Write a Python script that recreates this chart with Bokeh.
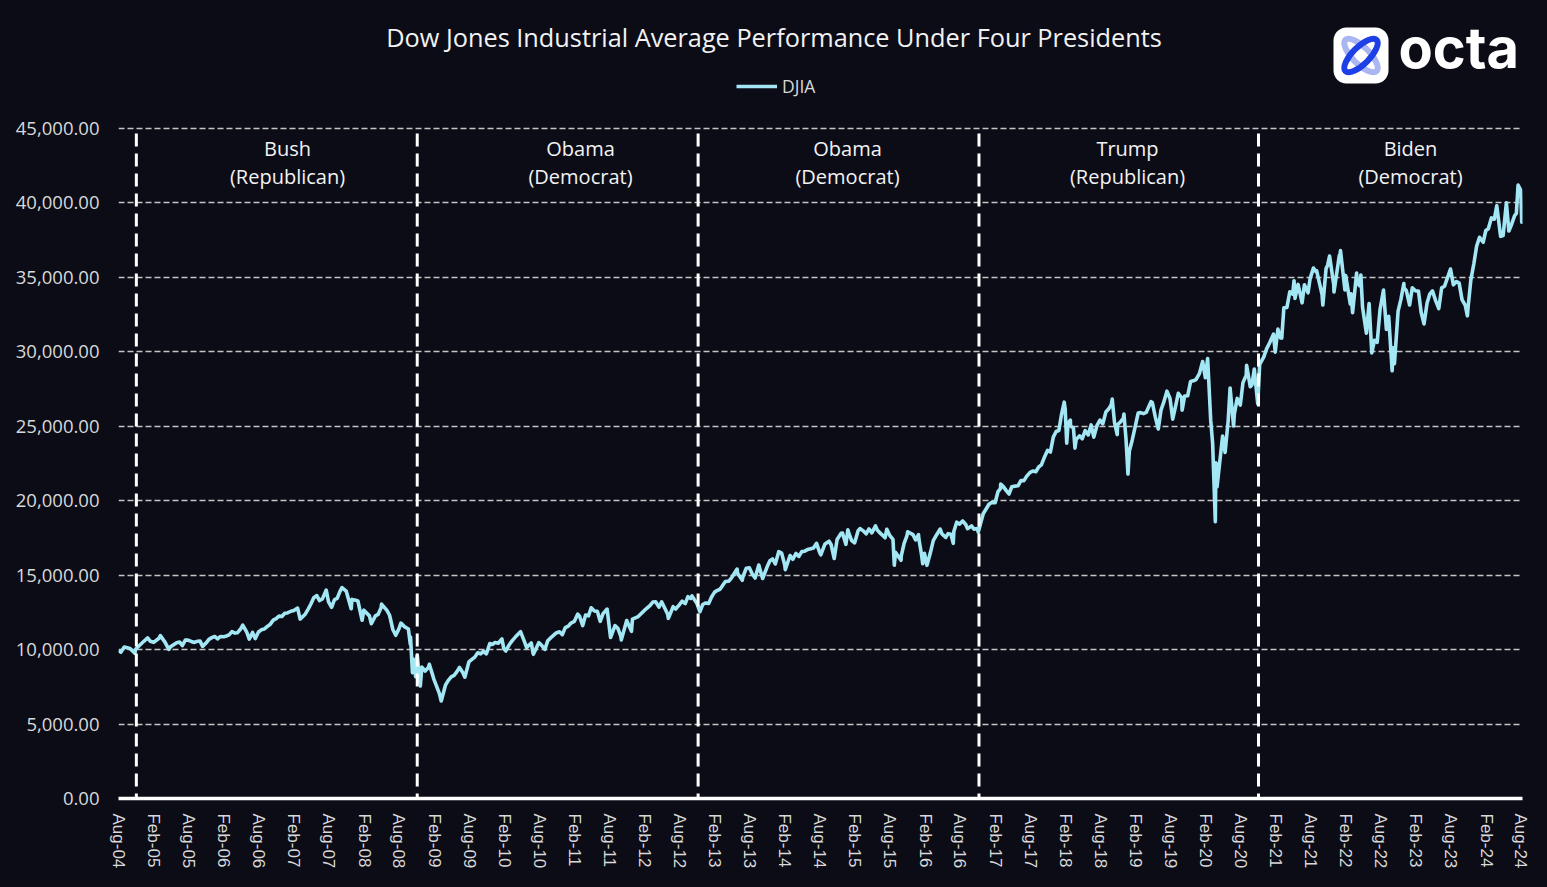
import pandas as pd
from bokeh.plotting import figure
from bokeh.models import (Range1d, FixedTicker, NumeralTickFormatter, DatetimeTickFormatter,
                          Label, BoxAnnotation, Legend, LegendItem, ColumnDataSource)
from bokeh.embed import file_html
from bokeh.resources import INLINE

# ---------------- data ----------------
chart_title = "Dow Jones Industrial Average Performance Under Four Presidents"
series_name = "DJIA"

dates = [
    "2004-08-02", "2004-08-13", "2004-08-31", "2004-09-30", "2004-10-25", "2004-10-29", "2004-11-30", "2004-12-31",
    "2005-01-31", "2005-02-28", "2005-03-07", "2005-03-31", "2005-04-20", "2005-04-29", "2005-05-31", "2005-06-30",
    "2005-07-29", "2005-08-31", "2005-09-30", "2005-10-13", "2005-10-31", "2005-11-30", "2005-12-30",
    "2006-01-31", "2006-02-28", "2006-03-31", "2006-04-28", "2006-05-10", "2006-05-31", "2006-06-13", "2006-06-30",
    "2006-07-31", "2006-08-31", "2006-09-29", "2006-10-31", "2006-11-30", "2006-12-29",
    "2007-01-31", "2007-02-20", "2007-03-05", "2007-03-30", "2007-04-30", "2007-05-31", "2007-06-29", "2007-07-19",
    "2007-07-31", "2007-08-16", "2007-08-31", "2007-09-28", "2007-10-09", "2007-10-31", "2007-11-26", "2007-11-30",
    "2007-12-31",
    "2008-01-22", "2008-01-31", "2008-02-29", "2008-03-10", "2008-03-31", "2008-04-30", "2008-05-02", "2008-05-30",
    "2008-06-30", "2008-07-15", "2008-07-31", "2008-08-11", "2008-08-29", "2008-09-19", "2008-09-29", "2008-09-30",
    "2008-10-10", "2008-10-13", "2008-10-27", "2008-10-31", "2008-11-04", "2008-11-20", "2008-11-28", "2008-12-31",
    "2009-01-06", "2009-01-30", "2009-02-27", "2009-03-09", "2009-03-31", "2009-04-30", "2009-05-29", "2009-06-12",
    "2009-06-30", "2009-07-10", "2009-07-31", "2009-08-31", "2009-09-30", "2009-10-30", "2009-11-30", "2009-12-31",
    "2010-01-19", "2010-01-29", "2010-02-08", "2010-02-26", "2010-03-31", "2010-04-26", "2010-05-28", "2010-06-30",
    "2010-07-02", "2010-07-30", "2010-08-31", "2010-09-30", "2010-10-29", "2010-11-30", "2010-12-31",
    "2011-01-31", "2011-02-28", "2011-03-16", "2011-03-31", "2011-04-29", "2011-05-31", "2011-06-30", "2011-07-21",
    "2011-08-08", "2011-08-31", "2011-09-30", "2011-10-03", "2011-10-31", "2011-11-25", "2011-11-30", "2011-12-30",
    "2012-01-31", "2012-02-29", "2012-03-30", "2012-04-30", "2012-05-31", "2012-06-04", "2012-06-29", "2012-07-31",
    "2012-08-31", "2012-09-28", "2012-10-05", "2012-10-31", "2012-11-15", "2012-11-30", "2012-12-31",
    "2013-01-31", "2013-02-28", "2013-03-28", "2013-04-30", "2013-05-28", "2013-05-31", "2013-06-24", "2013-06-28",
    "2013-07-31", "2013-08-30", "2013-09-18", "2013-09-30", "2013-10-08", "2013-10-31", "2013-11-29", "2013-12-31",
    "2014-01-31", "2014-02-03", "2014-02-28", "2014-03-31", "2014-04-30", "2014-05-30", "2014-06-30", "2014-07-31",
    "2014-08-29", "2014-09-30", "2014-10-16", "2014-10-31", "2014-11-28", "2014-12-16", "2014-12-26", "2014-12-31",
    "2015-01-30", "2015-02-27", "2015-03-31", "2015-04-30", "2015-05-19", "2015-05-29", "2015-06-30", "2015-07-31",
    "2015-08-25", "2015-08-31", "2015-09-29", "2015-09-30", "2015-10-30", "2015-11-03", "2015-11-30", "2015-12-31",
    "2016-01-20", "2016-01-29", "2016-02-11", "2016-02-29", "2016-03-31", "2016-04-20", "2016-04-29", "2016-05-31",
    "2016-06-27", "2016-06-30", "2016-07-29", "2016-08-31", "2016-09-30", "2016-10-31", "2016-11-04", "2016-11-30",
    "2016-12-30",
    "2017-01-31", "2017-02-28", "2017-03-01", "2017-03-31", "2017-04-28", "2017-05-31", "2017-06-30", "2017-07-31",
    "2017-08-31", "2017-09-29", "2017-10-31", "2017-11-30", "2017-12-29",
    "2018-01-26", "2018-01-31", "2018-02-08", "2018-02-27", "2018-02-28", "2018-03-23", "2018-03-29", "2018-04-30",
    "2018-05-31", "2018-06-29", "2018-07-31", "2018-08-31", "2018-09-28", "2018-10-03", "2018-10-29", "2018-10-31",
    "2018-11-30", "2018-12-03", "2018-12-24", "2018-12-31",
    "2019-01-31", "2019-02-28", "2019-03-29", "2019-04-23", "2019-04-30", "2019-05-31", "2019-06-28", "2019-07-15",
    "2019-07-31", "2019-08-14", "2019-08-30", "2019-09-30", "2019-10-02", "2019-10-31", "2019-11-29", "2019-12-31",
    "2020-01-17", "2020-01-31", "2020-02-12", "2020-02-28", "2020-03-09", "2020-03-23", "2020-03-26", "2020-03-31",
    "2020-04-01", "2020-04-30", "2020-05-13", "2020-05-29", "2020-06-08", "2020-06-26", "2020-06-30", "2020-07-31",
    "2020-08-31", "2020-09-02", "2020-09-30", "2020-10-12", "2020-10-30", "2020-11-09", "2020-11-30", "2020-12-31",
    "2021-01-29", "2021-02-26", "2021-03-31", "2021-04-30", "2021-05-07", "2021-05-12", "2021-05-28", "2021-06-18",
    "2021-06-30", "2021-07-19", "2021-07-30", "2021-08-16", "2021-08-31", "2021-09-30", "2021-10-29", "2021-11-08",
    "2021-11-30", "2021-12-01", "2021-12-29", "2021-12-31",
    "2022-01-04", "2022-01-27", "2022-01-31", "2022-02-24", "2022-02-28", "2022-03-08", "2022-03-29", "2022-03-31",
    "2022-04-20", "2022-04-29", "2022-05-19", "2022-05-31", "2022-06-16", "2022-06-30", "2022-07-29", "2022-08-16",
    "2022-08-31", "2022-09-12", "2022-09-30", "2022-10-12", "2022-10-31", "2022-11-30", "2022-12-13", "2022-12-30",
    "2023-01-13", "2023-01-31", "2023-02-28", "2023-03-15", "2023-03-31", "2023-04-28", "2023-05-31", "2023-06-30",
    "2023-07-31", "2023-08-31", "2023-09-29", "2023-10-27", "2023-10-31", "2023-11-30", "2023-12-29",
    "2024-01-31", "2024-02-29", "2024-03-28", "2024-04-17", "2024-04-30", "2024-05-17", "2024-05-30", "2024-06-28",
    "2024-07-17", "2024-07-31", "2024-08-05", "2024-08-09",
]

djia = [
    9950, 9825, 10174, 10080, 9750, 10027, 10428, 10783,
    10490, 10766, 10940, 10504, 10012, 10193, 10467, 10275,
    10641, 10482, 10569, 10217, 10440, 10806, 10718,
    10865, 10993, 11109, 11367, 11642, 11168, 10706, 11150,
    11186, 11381, 11679, 12081, 12222, 12463,
    12622, 12786, 12050, 12354, 13063, 13628, 13409, 14000,
    13212, 12845, 13358, 13896, 14164, 13930, 12743, 13372,
    13265,
    11971, 12650, 12266, 11740, 12263, 12820, 13058, 12638,
    11350, 10963, 11378, 11782, 11544, 11388, 10365, 10851,
    8451, 9387, 8176, 9325, 9625, 7552, 8829, 8776,
    9015, 8001, 7063, 6547, 7609, 8168, 8500, 8800,
    8447, 8146, 9172, 9496, 9712, 9713, 10345, 10428,
    10725, 10067, 9908, 10325, 10857, 11205, 10137, 9774,
    9686, 10466, 10015, 10788, 11118, 11006, 11578,
    11892, 12226, 11613, 12320, 12811, 12570, 12414, 12724,
    10810, 11614, 10913, 10655, 11955, 11231, 12046, 12218,
    12633, 12952, 13212, 13214, 12393, 12101, 12880, 13009,
    13091, 13437, 13610, 13096, 12542, 13026, 13104,
    13861, 14054, 14579, 14840, 15409, 15116, 14659, 14910,
    15500, 14810, 15677, 15130, 14776, 15546, 16086, 16577,
    15699, 15373, 16322, 16458, 16581, 16717, 16827, 16563,
    17098, 17043, 16117, 17391, 17828, 17068, 18053, 17823,
    17165, 18133, 17776, 17841, 18312, 18011, 17620, 17690,
    15666, 16528, 16001, 16285, 17664, 17918, 17720, 17425,
    15766, 16466, 15660, 16517, 17685, 18096, 17774, 17787,
    17140, 17930, 18432, 18401, 18308, 18142, 17888, 19124,
    19763,
    19864, 20812, 21115, 20663, 20941, 21009, 21350, 21891,
    21948, 22405, 23377, 24272, 24719,
    26617, 26149, 23860, 25410, 25029, 23533, 24103, 24163,
    24416, 24271, 25415, 25965, 26458, 26828, 24443, 25116,
    25538, 25826, 21792, 23327,
    24999, 25916, 25929, 26656, 26593, 24815, 26600, 27359,
    26864, 25480, 26403, 26917, 26079, 27046, 28051, 28538,
    29348, 28256, 29551, 25409, 23851, 18592, 22552, 21917,
    20943, 24346, 23248, 25383, 27572, 25016, 25813, 26428,
    28430, 29100, 27782, 28838, 26502, 29158, 29639, 30606,
    29983, 30932, 32982, 33875, 34778, 33587, 34529, 33290,
    34503, 33962, 34935, 35625, 35361, 33844, 35820, 36432,
    34484, 34022, 36488, 36338,
    36800, 34160, 35132, 33223, 33893, 32632, 35294, 34678,
    35160, 32977, 31253, 32990, 29927, 30775, 32845, 34152,
    31510, 32381, 28726, 29210, 32733, 34590, 34108, 33147,
    34302, 34086, 32657, 31874, 33274, 34098, 32908, 34408,
    35560, 34722, 33508, 32418, 33053, 35951, 37690,
    38150, 38996, 39807, 37753, 37816, 40004, 38112, 39119,
    41198, 40843, 38703, 39497,
]

# additional mid-month readings
mid_dates = [
    "2005-01-14", "2005-06-15", "2005-07-15", "2005-08-15", "2005-09-15", "2005-11-15", "2005-12-15",
    "2006-01-13", "2006-02-15", "2006-03-15", "2006-04-13", "2006-07-14", "2006-08-15", "2006-09-15",
    "2006-10-16", "2006-11-15", "2006-12-15",
    "2007-01-16", "2007-04-16", "2007-05-15", "2007-06-14", "2007-09-14", "2007-12-14",
    "2008-04-14", "2008-06-13", "2008-12-15",
    "2009-04-14", "2009-05-15", "2009-08-14", "2009-09-15", "2009-10-15", "2009-11-17", "2009-12-14",
    "2010-03-15", "2010-05-14", "2010-06-21", "2010-08-13", "2010-09-15", "2010-11-15", "2010-12-15",
    "2011-01-14", "2011-02-18", "2011-04-15", "2011-05-16", "2011-06-15", "2011-09-15",
    "2012-03-15", "2012-04-16", "2012-07-12", "2012-08-15", "2012-09-14", "2012-12-14",
    "2013-01-15", "2013-02-15", "2013-04-15", "2013-07-15", "2013-08-15", "2013-11-15", "2013-12-13",
    "2014-01-15", "2014-03-14", "2014-04-15", "2014-05-15", "2014-06-16", "2014-07-16", "2014-08-07",
    "2014-09-19", "2014-11-21",
    "2015-01-15", "2015-02-17", "2015-03-16", "2015-04-15", "2015-06-15", "2015-07-08", "2015-07-17",
    "2015-08-18", "2015-10-15", "2015-12-14", "2015-12-29",
    "2016-01-14", "2016-03-15", "2016-05-19", "2016-06-15", "2016-07-15", "2016-08-15", "2016-09-09",
    "2016-10-13",
    "2017-01-13", "2017-02-15", "2017-03-15", "2017-04-13", "2017-05-15", "2017-06-15", "2017-07-14",
    "2017-08-15", "2017-09-15", "2017-10-16", "2017-11-15", "2017-12-15",
    "2018-01-12", "2018-02-15", "2018-03-15", "2018-04-16", "2018-05-15", "2018-06-15", "2018-07-16",
    "2018-08-15", "2018-09-14", "2018-10-15", "2018-11-15", "2018-12-14",
    "2019-01-15", "2019-02-15", "2019-03-15", "2019-05-15", "2019-06-14", "2019-09-12", "2019-10-15",
    "2019-11-15", "2019-12-13",
    "2020-07-15", "2020-08-14", "2020-09-21", "2020-12-15",
    "2021-01-20", "2021-02-12", "2021-03-04", "2021-03-15", "2021-04-15", "2021-09-02", "2021-10-04",
    "2021-10-21",
    "2022-04-13", "2022-06-02", "2022-07-14", "2022-10-05", "2022-11-15", "2022-12-01",
    "2023-02-14", "2023-04-14", "2023-05-15", "2023-06-15", "2023-08-15", "2023-09-14", "2023-10-16",
    "2023-11-14", "2023-12-14",
    "2024-01-17", "2024-02-13", "2024-03-15", "2024-06-14", "2024-07-08",
]
mid_djia = [
    10558, 10512, 10640, 10550, 10558, 10686, 10881,
    10880, 10915, 11209, 11137, 10739, 11327, 11560,
    11980, 12251, 12445,
    12577, 12720, 13487, 13295, 13442, 13339,
    12362, 12307, 8564,
    7920, 8268, 9321, 9791, 9886, 10406, 10471,
    10624, 10620, 10450, 10303, 10600, 11201, 11476,
    11787, 12391, 12270, 12596, 11897, 11433,
    13194, 12849, 12727, 13250, 13553, 13135,
    13534, 13981, 14600, 15470, 15081, 15962, 15755,
    16481, 16066, 16262, 16613, 16776, 17138, 16368,
    17279, 17810,
    17320, 17973, 17977, 18105, 17791, 17515, 18086,
    17402, 17141, 17368, 17720,
    16350, 17325, 17535, 17750, 18559, 18636, 18123,
    18092,
    19885, 20611, 20950, 20453, 20981, 21360, 21637,
    21998, 22268, 22957, 23271, 24651,
    25803, 25200, 24873, 24360, 24706, 25090, 25064,
    25162, 26154, 25250, 25289, 24100,
    24065, 25883, 25849, 25648, 26090, 27219, 27025,
    28005, 28135,
    26870, 27931, 27657, 30199,
    31188, 31523, 30924, 32953, 34035, 35443, 33145,
    35603,
    34451, 33248, 30630, 30274, 33537, 34303,
    34089, 33875, 33426, 34299, 34500, 34618, 33127,
    34830, 37090,
    37361, 38272, 38905, 38589, 39300,
]

election_dates = ["2004-11-02", "2008-11-04", "2012-11-06", "2016-11-08", "2020-11-03"]
presidents = ["Bush", "Obama", "Obama", "Trump", "Biden"]
parties = ["(Republican)", "(Democrat)", "(Democrat)", "(Republican)", "(Democrat)"]
y_ticks = [0, 5000, 10000, 15000, 20000, 25000, 30000, 35000, 40000, 45000]
tick_dates = [f"{y}-{m:02d}-01" for y in range(2004, 2025) for m in (2, 8)
              if "2004-08-01" <= f"{y}-{m:02d}-01" <= "2024-08-01"]

assert len(dates) == len(djia)
assert len(mid_dates) == len(mid_djia)

# ---------------- layout constants ----------------
BG = "#0c0c17"
LINE = "#a3e7f5"
TXT = "#d9d9d9"
W, H = 1547, 887
FRAME_L, FRAME_R = 118, 1522          # canvas px
FRAME_TOP, AXIS_Y = 0, 798            # canvas px
Y45 = 128                             # canvas px of 45,000 gridline

T0 = pd.Timestamp("2004-08-01")
T1 = pd.Timestamp("2024-08-09")
t0ms = T0.value / 1e6
t1ms = T1.value / 1e6
YTOP = 45000 * (AXIS_Y - FRAME_TOP) / (AXIS_Y - Y45)


def px_x(x):
    return t0ms + (x - FRAME_L) / (FRAME_R - FRAME_L) * (t1ms - t0ms)


def py(y):
    return (AXIS_Y - y) / (AXIS_Y - Y45) * 45000


p = figure(width=W, height=H, x_axis_type="datetime", output_backend="svg", toolbar_location=None,
           x_range=Range1d(T0, T1), y_range=Range1d(0, YTOP),
           min_border_left=FRAME_L, min_border_right=W - FRAME_R,
           min_border_top=0, min_border_bottom=H - AXIS_Y)
p.background_fill_color = BG
p.border_fill_color = None          # avoids the clearRect seam round the frame
p.styles = {"background-color": BG}
p.outline_line_color = None

# axes
p.yaxis.ticker = FixedTicker(ticks=y_ticks)
p.yaxis.formatter = NumeralTickFormatter(format="0,0.00")
p.yaxis.axis_line_color = None
p.yaxis.major_tick_line_color = None
p.yaxis.minor_tick_line_color = None
p.yaxis.major_label_standoff = 13
p.yaxis.major_label_text_color = TXT
p.yaxis.major_label_text_font = "Open Sans"
p.yaxis.major_label_text_font_size = "18.5px"

tick_ms = [pd.Timestamp(d).value / 1e6 for d in tick_dates]
p.xaxis.ticker = FixedTicker(ticks=tick_ms)
fmt = "%b-%y"
p.xaxis.formatter = DatetimeTickFormatter(microseconds=fmt, milliseconds=fmt, seconds=fmt, minsec=fmt,
                                          minutes=fmt, hourmin=fmt, hours=fmt, days=fmt, months=fmt, years=fmt)
p.xaxis.major_label_orientation = "vertical"
p.xaxis.axis_line_color = "white"
p.xaxis.axis_line_width = 3.5
p.xaxis.major_tick_line_color = None
p.xaxis.minor_tick_line_color = None
p.xaxis.major_label_standoff = 9
p.xaxis.major_label_text_color = TXT
p.xaxis.major_label_text_font = "Liberation Sans"
p.xaxis.major_label_text_font_size = "17px"

p.xgrid.visible = False
p.ygrid.grid_line_color = "#c4c4c4"
p.ygrid.grid_line_width = 1.3
p.ygrid.grid_line_dash = "6 3"

# data line
all_d = pd.to_datetime(dates + mid_dates)
all_v = djia + mid_djia
df = pd.DataFrame(dict(date=all_d, djia=all_v)).sort_values("date")
src = ColumnDataSource(df)
r = p.line(x="date", y="djia", source=src, line_color=LINE, line_width=3.6, line_join="round")

# election dividers
el = pd.to_datetime(election_dates)
p.segment(x0=el, y0=py(133), x1=el, y1=0, line_color="white", line_width=3, line_dash="13 7")

# legend
legend = Legend(items=[LegendItem(label=series_name, renderers=[r])], location=(618, 700),
                orientation="horizontal", background_fill_alpha=0, border_line_alpha=0,
                label_text_color=TXT, label_text_font="Open Sans", label_text_font_size="17.5px",
                glyph_width=41, glyph_height=20, padding=0, margin=0, label_standoff=5, spacing=0)
p.add_layout(legend)

# title
p.add_layout(Label(x=px_x(773.5), y=py(36), text=chart_title, text_align="center", text_baseline="middle",
                   text_color="#f2f2f2", text_font="Open Sans", text_font_size="25.3px"))

# president labels
label_x = [287, 580, 847, 1127, 1410]
for xx, name, party in zip(label_x, presidents, parties):
    p.add_layout(Label(x=px_x(xx), y=py(148), text=name, text_align="center", text_baseline="middle",
                       text_color="#f2f2f2", text_font="Open Sans", text_font_size="20px"))
    p.add_layout(Label(x=px_x(xx), y=py(176), text=party, text_align="center", text_baseline="middle",
                       text_color="#f2f2f2", text_font="Open Sans", text_font_size="20px"))

# logo
box = BoxAnnotation(left=px_x(1333), right=px_x(1388), top=py(27), bottom=py(83),
                    fill_color="white", fill_alpha=1, line_alpha=0, border_radius=13, level="underlay")
p.add_layout(box)
p.ellipse(x=[px_x(1360.5)], y=[py(55)], width=44, height=17, angle=-0.785,
          width_units="screen", height_units="screen", fill_alpha=0,
          line_color="#a9b6f2", line_width=6)
p.ellipse(x=[px_x(1360.5)], y=[py(55)], width=44, height=17, angle=0.785,
          width_units="screen", height_units="screen", fill_alpha=0,
          line_color="#1d40e6", line_width=6)
p.add_layout(Label(x=px_x(1398), y=py(47), text="octa", text_align="left", text_baseline="middle",
                   text_color="white", text_font="Inter", text_font_style="bold", text_font_size="56px"))

open("out.html", "w").write(file_html(p, INLINE))
